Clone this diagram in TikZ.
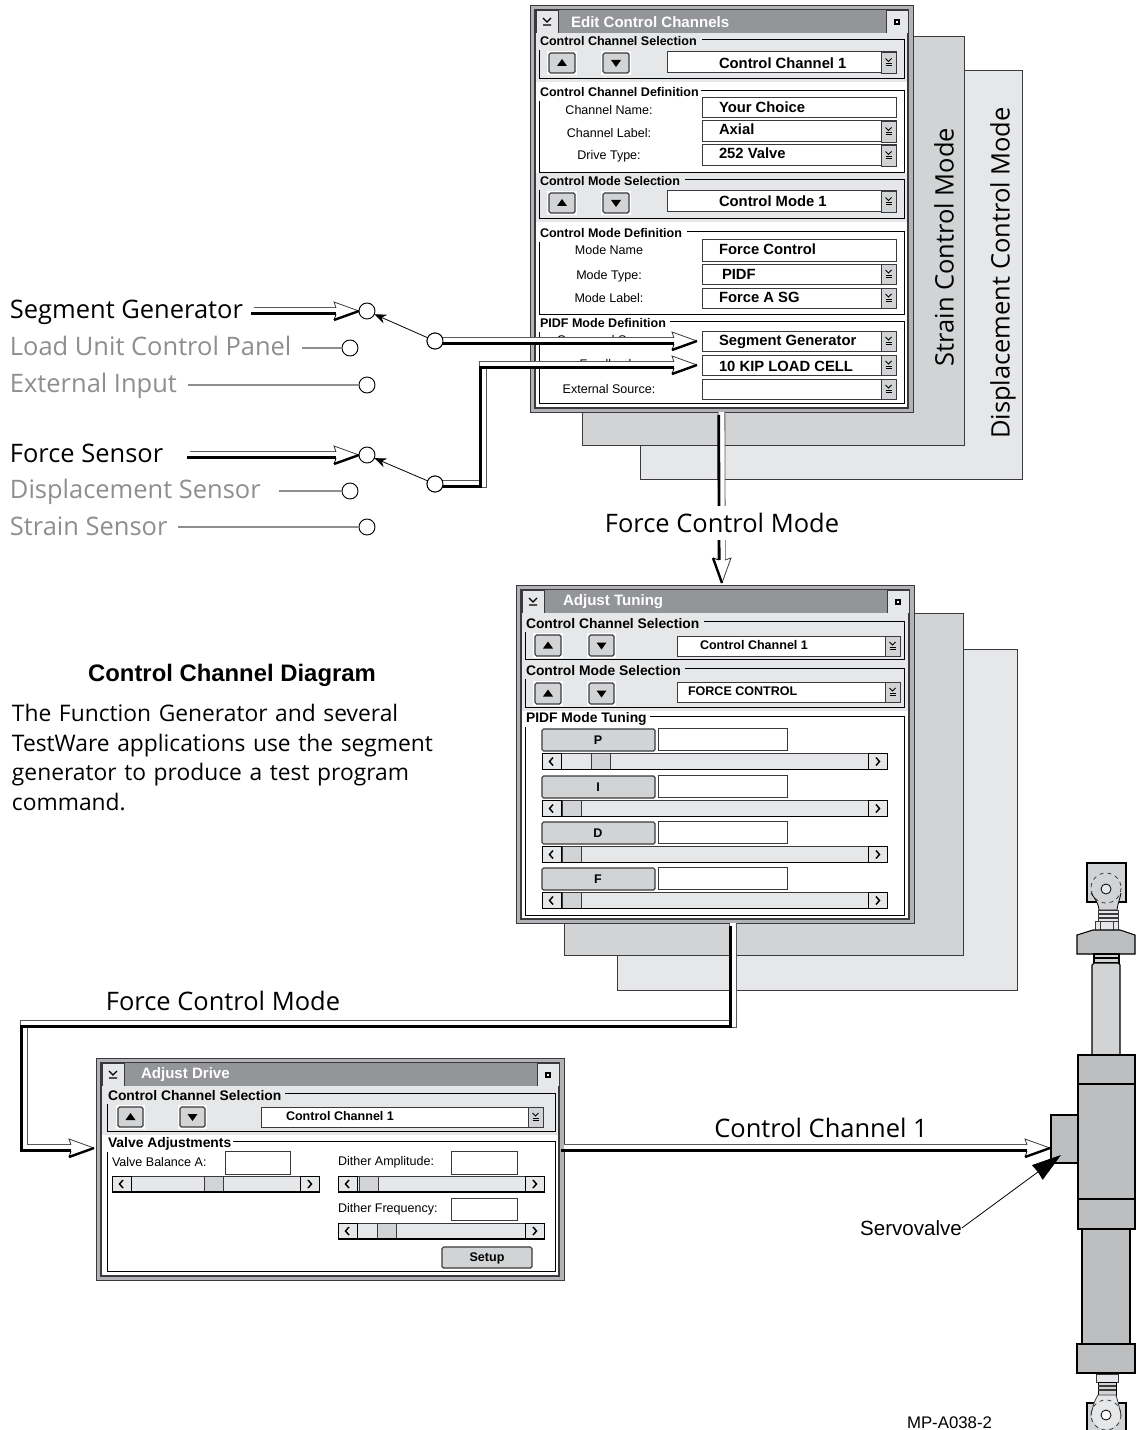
\documentclass[tikz,border=0pt]{standalone}
\usepackage{fontspec}
\setmainfont{Liberation Sans}
\newfontfamily\lightfont{Open Sans}
\usetikzlibrary{arrows.meta,calc}
\definecolor{Edge}{HTML}{3A3A3C}
\definecolor{FrameGray}{HTML}{B1B3B6}
\definecolor{TitleGray}{HTML}{939598}
\definecolor{PanelGray}{HTML}{E6E7E8}
\definecolor{SheetGray}{HTML}{D1D3D4}
\definecolor{BodyGray}{HTML}{BCBEC0}
\definecolor{Faded}{HTML}{8E8E8E}
\definecolor{PipeWall}{HTML}{58595B}
\newcommand{\upx}{0.75pt}
\tikzset{
  flat/.style={inner sep=0pt,outer sep=0pt},
  sheetbox/.style={flat,fill=#1,draw=Edge,line width=0.7pt},
  winframe/.style={flat,fill=FrameGray,draw=Edge,line width=0.6pt},
  wininner/.style={flat,fill=white,draw=Edge,line width=0.8pt},
  titlebar/.style={flat,fill=TitleGray},
  titlebtn/.style={flat,fill=PanelGray,draw=Edge,line width=0.6pt},
  panelband/.style={flat,fill=PanelGray},
  fieldbox/.style={flat,fill=white,draw=Edge,line width=0.75pt},
  dropbtn/.style={flat,fill=SheetGray,draw=Edge,line width=0.6pt},
  haloback/.style={flat,fill=white},
  raisedbtn/.style={flat,fill=SheetGray,draw=Edge,line width=0.9pt,rounded corners=1.2pt},
  scrollbody/.style={flat,fill=PanelGray,draw=Edge,line width=0.6pt},
  scrollend/.style={flat,fill=PanelGray,draw=black,line width=0.7pt},
  scrollthumb/.style={flat,fill=SheetGray,draw=Edge,line width=0.7pt},
  groupline/.style={draw=black,line width=0.7pt},
  titletext/.style={flat,anchor=west,text=white,font=\fontsize{11.3}{13}\selectfont\bfseries},
  smallgroup/.style={flat,anchor=west,font=\fontsize{9.4}{11}\selectfont\bfseries},
  largegroup/.style={flat,anchor=west,yshift=-0.75pt,font=\fontsize{10.4}{12}\selectfont\bfseries},
  fieldtext/.style={flat,anchor=west,font=\fontsize{11.1}{13}\selectfont\bfseries},
  comboSmall/.style={flat,anchor=west,font=\fontsize{9.4}{11}\selectfont\bfseries},
  formtext/.style={flat,font=\fontsize{9.4}{11}\selectfont},
  bigtext/.style={flat,anchor=base west,outer sep=8pt,font=\lightfont\fontsize{19.1}{22}\selectfont},
  bigfaded/.style={bigtext,text=Faded},
  sidetext/.style={flat,font=\lightfont\fontsize{19.1}{22}\selectfont},
  switchdot/.style={circle,draw=black,fill=white,line width=0.7pt,minimum size=12pt,inner sep=0pt,outer sep=0pt},
  thinfeed/.style={draw=Faded,line width=0.8pt},
  swingline/.style={-{Stealth[length=9pt,width=7pt]},draw=black,line width=0.6pt},
  leaderline/.style={-{Stealth[length=22pt,width=13.5pt,inset=0.5pt]},draw=black,line width=0.6pt},
  pipeedge/.style={draw=PipeWall,line width=5.6pt,shorten >=15pt},
  pipefill/.style={draw=white,line width=4.4pt,shorten >=14pt},
  pipeshadow/.style={draw=black,line width=2.1pt,shorten >=15pt,transform canvas={xshift=-2.1pt,yshift=-2.1pt}},
  actpart/.style={fill=BodyGray,draw=black,line width=0.8pt},
  actlight/.style={fill=SheetGray,draw=black,line width=0.8pt},
  actpale/.style={fill=PanelGray,draw=Edge,line width=0.6pt},
  pipehead/.pic={
    \path[fill=white] (0,0) -- (-25,-9) -- (-23,-3) -- (-23,3) -- (-25,9) -- cycle;
    \draw[draw=Edge,line width=0.6pt] (-23,-3) -- (-25,-9) -- (0,0);
    \draw[draw=black,line width=1.8pt] (0,0) -- (-25,9);
    \draw[draw=black,line width=0.6pt] (-25,9) -- (-23,3);
  }
}
% box from corner to corner, in pixels of the page
\newcommand{\boxat}[6]{\node[#1,minimum width={((#5)-(#3))*\upx},minimum height={((#6)-(#4))*\upx},anchor=north west] (#2) at (#3,#4) {};}
% the v-and-two-bars glyph
\newcommand{\dropglyph}[2]{
  \draw[line width=0.6pt] ({#1-3},{#2-4}) -- (#1,{#2-1}) -- ({#1+3},{#2-4});
  \draw[line width=0.5pt] ({#1-3},{#2+1}) -- ({#1+3},{#2+1}) ({#1-3},{#2+3}) -- ({#1+3},{#2+3});
}
% window: name, corners, title, title x
\newcommand{\winbox}[7]{
  \boxat{winframe}{#1}{#2}{#3}{#4}{#5}
  \boxat{wininner}{#1in}{#2+5}{#3+5}{#4-5}{#5-4}
  \boxat{titlebar}{#1bar}{#2+6}{#3+5}{#4-6}{#3+28}
  \boxat{titlebtn}{#1menu}{#2+6}{#3+5}{#2+28}{#3+28}
  \boxat{titlebtn}{#1size}{#4-27}{#3+5}{#4-5}{#3+28}
  \draw[line width=0.9pt] ({#2+13},{#3+13}) -- ({#2+17},{#3+17}) -- ({#2+21},{#3+13}) ({#2+13},{#3+20}) -- ({#2+21},{#3+20});
  \draw[line width=0.8pt,fill=white] ({#4-18},{#3+15}) rectangle ({#4-14},{#3+19});
  \node[titletext] (#1title) at (#7,#3+17) {#6};
}
% frame with a label set into its top line
\newcommand{\groupbox}[8]{
  \draw[groupline] (#2,#3+11) -- (#2,#5) -- (#4,#5) -- (#4,#3) -- (#6,#3);
  \node[#8] (#1) at (#2+1,#3+2) {#7};
}
\newcommand{\combo}[5]{
  \boxat{fieldbox}{#1}{#2}{#3}{#4}{#5}
  \boxat{dropbtn}{#1drop}{#4-15}{#3}{#4}{#5}
  \dropglyph{#4-7.5}{(#3+#5)/2}
}
% sign +1 gives an up triangle, -1 a down triangle
\newcommand{\spinbtn}[6]{
  \boxat{haloback}{#1halo}{#2-2}{#3-2}{#4+2}{#5+2}
  \boxat{raisedbtn}{#1}{#2}{#3}{#4}{#5}
  \fill ({(#2+#4)/2-5},{(#3+#5)/2+3*(#6)}) -- ({(#2+#4)/2+5},{(#3+#5)/2+3*(#6)}) -- ({(#2+#4)/2},{(#3+#5)/2-4*(#6)}) -- cycle;
}
\newcommand{\scrollbar}[5]{
  \boxat{scrollbody}{#1}{#2}{#3}{#4}{#3+16}
  \boxat{scrollthumb}{#1thumb}{#5}{#3}{#5+19}{#3+16}
  \boxat{scrollend}{#1less}{#2}{#3}{#2+19}{#3+16}
  \boxat{scrollend}{#1more}{#4-19}{#3}{#4}{#3+16}
  \draw[line width=1.2pt] (#2,{#3+16}) -- (#4,{#3+16});
  \draw[line width=1.1pt] ({#2+11},{#3+4}) -- ({#2+7.5},{#3+8}) -- ({#2+11},{#3+12});
  \draw[line width=1.1pt] ({#4-11},{#3+4}) -- ({#4-7.5},{#3+8}) -- ({#4-11},{#3+12});
}
% double-walled connector with an open head
\newcommand{\pipe}[3]{
  \path[pipeedge] #1;
  \path[pipefill] #1;
  \path[pipeshadow] #1;
  \pic[rotate=#3] at (#2) {pipehead};
}
\begin{document}
\begin{tikzpicture}[x=0.75pt,y=-0.75pt]
  \useasboundingbox[fill=white] (0,0) rectangle (1138,1430);

  % sheets behind the first window
  \boxat{sheetbox=PanelGray}{dispsheet}{640}{70}{1022}{479}
  \boxat{sheetbox=SheetGray}{strainsheet}{582}{36}{964}{445}
  \node[sidetext,rotate=90] (straintxt) at (944,247) {Strain Control Mode};
  \node[sidetext,rotate=90] (disptxt) at (1003,273) {Displacement Control Mode};

  % first window
  \winbox{editwin}{530}{5}{913}{412}{Edit Control Channels}{571}
  \boxat{panelband}{chanband}{536}{33}{907}{82}
  \groupbox{chanselect}{539}{39}{904}{78}{702}{Control Channel Selection}{smallgroup}
  \spinbtn{chanup}{549}{53}{575}{73}{1}
  \spinbtn{chandown}{603}{53}{629}{73}{-1}
  \combo{chanbox}{667}{52}{896}{73}
  \node[fieldtext] (chanval) at (719,63) {Control Channel 1};

  \groupbox{chandef}{539}{90}{904}{172}{701}{Control Channel Definition}{smallgroup}
  \node[formtext] (namelbl) at (609,110) {Channel Name:};
  \node[formtext] (labellbl) at (609,133) {Channel Label:};
  \node[formtext] (drivelbl) at (609,156) {Drive Type:};
  \boxat{fieldbox}{namebox}{702}{98}{896}{118}
  \combo{labelbox}{702}{121}{896}{142}
  \combo{drivebox}{702}{145}{896}{166}
  \node[fieldtext] (nameval) at (719,107) {Your Choice};
  \node[fieldtext] (labelval) at (719,129) {Axial};
  \node[fieldtext] (driveval) at (719,153) {252 Valve};

  \boxat{panelband}{modeband}{536}{173}{907}{222}
  \groupbox{modeselect}{539}{179}{904}{218}{685}{Control Mode Selection}{smallgroup}
  \spinbtn{modeup}{549}{193}{575}{213}{1}
  \spinbtn{modedown}{603}{193}{629}{213}{-1}
  \combo{modebox}{667}{191}{896}{212}
  \node[fieldtext] (modeval) at (719,201) {Control Mode 1};

  \groupbox{modedef}{539}{231}{904}{314}{687}{Control Mode Definition}{smallgroup}
  \node[formtext] (mnamelbl) at (609,250) {Mode Name};
  \node[formtext] (mtypelbl) at (609,276) {Mode Type:};
  \node[formtext] (mlabellbl) at (609,298) {Mode Label:};
  \boxat{fieldbox}{mnamebox}{702}{240}{896}{261}
  \combo{mtypebox}{702}{264}{896}{284}
  \combo{mlabelbox}{702}{288}{896}{308}
  \node[fieldtext] (mnameval) at (719,249) {Force Control};
  \node[fieldtext] (mtypeval) at (722,274) {PIDF};
  \node[fieldtext] (mlabelval) at (719,297) {Force A SG};

  \groupbox{pidfdef}{539}{321}{904}{403}{670}{PIDF Mode Definition}{smallgroup}
  \node[formtext] (cmdlbl) at (609,340) {Command Source:};
  \node[formtext] (fdbklbl) at (609,364) {Feedback:};
  \node[formtext] (extlbl) at (609,389) {External Source:};
  \combo{cmdbox}{702}{331}{896}{351}
  \combo{fdbkbox}{702}{355}{896}{375}
  \combo{extbox}{702}{379}{896}{399}
  \node[fieldtext] (cmdval) at (719,342) {Segment Generator};
  \node[fieldtext] (fdbkval) at (719,366) {10 KIP LOAD CELL};

  % second stack
  \boxat{sheetbox=PanelGray}{dispsheetb}{617}{649}{1017}{990}
  \boxat{sheetbox=SheetGray}{strainsheetb}{564}{613}{963}{955}
  \winbox{tunewin}{516}{585}{914}{923}{Adjust Tuning}{563}
  \boxat{panelband}{tuneband}{522}{613}{908}{711}
  \groupbox{tunechan}{525}{621}{904}{659}{704}{Control Channel Selection}{largegroup}
  \spinbtn{tunechanup}{535}{635}{561}{656}{1}
  \spinbtn{tunechandown}{589}{635}{614}{656}{-1}
  \combo{tunechanbox}{677}{636}{900}{656}
  \node[comboSmall] (tunechanval) at (700,645) {Control Channel 1};
  \groupbox{tunemode}{525}{668}{904}{707}{685}{Control Mode Selection}{largegroup}
  \spinbtn{tunemodeup}{535}{683}{561}{704}{1}
  \spinbtn{tunemodedown}{589}{683}{614}{704}{-1}
  \combo{tunemodebox}{677}{682}{900}{702}
  \node[comboSmall] (tunemodeval) at (688,691) {FORCE CONTROL};
  \groupbox{tunepidf}{525}{716}{904}{915}{650}{PIDF Mode Tuning}{largegroup}
  \foreach \rowname/\rowy/\thumbx in {P/729/591,I/776/562,D/822/562,F/868/562}{
    \boxat{raisedbtn}{btn\rowname}{542}{\rowy}{655}{\rowy+22}
    \node[comboSmall,anchor=center] (txt\rowname) at (598,\rowy+11) {\rowname};
    \boxat{fieldbox}{gain\rowname}{658}{\rowy-1}{787}{\rowy+21}
    \scrollbar{bar\rowname}{542}{\rowy+24.5}{887}{\thumbx}
  }

  % third window
  \winbox{drivewin}{96}{1058}{564}{1280}{Adjust Drive}{141}
  \boxat{panelband}{driveband}{102}{1086}{558}{1135}
  \groupbox{drivechan}{107}{1093}{555}{1131}{285}{Control Channel Selection}{largegroup}
  \spinbtn{drivechanup}{118}{1107}{143}{1127}{1}
  \spinbtn{drivechandown}{180}{1107}{205}{1127}{-1}
  \combo{drivechanbox}{261}{1107}{543}{1127}
  \node[comboSmall] (drivechanval) at (286,1116) {Control Channel 1};
  \groupbox{valveadj}{107}{1141}{555}{1271}{233}{Valve Adjustments}{largegroup}
  \node[formtext,anchor=west] (balancelbl) at (112,1162) {Valve Balance A:};
  \node[formtext,anchor=west] (amplbl) at (338,1162) {Dither Amplitude:};
  \node[formtext,anchor=west] (freqlbl) at (338,1209) {Dither Frequency:};
  \boxat{fieldbox}{balancebox}{225}{1151}{290}{1174}
  \boxat{fieldbox}{ampbox}{451}{1151}{517}{1174}
  \boxat{fieldbox}{freqbox}{451}{1198}{517}{1220}
  \scrollbar{balancebar}{112}{1176}{319}{204}
  \scrollbar{ampbar}{338}{1176}{544}{359}
  \scrollbar{freqbar}{338}{1223}{544}{377}
  \boxat{raisedbtn}{setupbtn}{442}{1247}{532}{1268}
  \node[comboSmall,anchor=center] (setuptxt) at (487,1258) {Setup};

  % inputs and switches
  \node[switchdot] (segpin) at (367,311) {};
  \node[switchdot] (panelpin) at (350,348) {};
  \node[switchdot] (extpin) at (367,385) {};
  \node[switchdot] (forcepin) at (367,455) {};
  \node[switchdot] (disppin) at (350,491) {};
  \node[switchdot] (strainpin) at (367,527) {};
  \node[switchdot] (cmdswitch) at (435,341) {};
  \node[switchdot] (fdbkswitch) at (435,484) {};
  \node[bigtext] (seglbl) at (-0.7,318) {Segment Generator};
  \node[bigfaded] (panellbl) at (-0.7,355) {Load Unit Control Panel};
  \node[bigfaded] (extinlbl) at (-0.7,392) {External Input};
  \node[bigtext] (forcelbl) at (-0.7,462) {Force Sensor};
  \node[bigfaded] (displbl) at (-0.7,498) {Displacement Sensor};
  \node[bigfaded] (strainlbl) at (-0.7,535) {Strain Sensor};
  \draw[thinfeed] (panellbl.east |- panelpin) -- (panelpin);
  \draw[thinfeed] (extinlbl.east |- extpin) -- (extpin);
  \draw[thinfeed] ($(displbl.east |- disppin)+(8,0)$) -- (disppin);
  \draw[thinfeed] (strainlbl.east |- strainpin) -- (strainpin);
  \draw[swingline] (cmdswitch) -- (segpin);
  \draw[swingline] (fdbkswitch) -- (forcepin);

  \pipe{(seglbl.east |- segpin) -- (segpin.west)}{segpin.west}{0}
  \pipe{($(forcelbl.east |- forcepin)+(16,0)$) -- (forcepin.west)}{forcepin.west}{0}
  \coordinate (cmdtip) at (697,341);
  \coordinate (fdbktip) at (697,365);
  \pipe{(cmdswitch.east) -- (cmdtip)}{cmdtip}{0}
  \pipe{(fdbkswitch.east) -- (483,484) |- (fdbktip)}{fdbktip}{0}
  \node[switchdot] (cmdswitchb) at (cmdswitch) {};
  \node[switchdot] (fdbkswitchb) at (fdbkswitch) {};

  % between the windows
  \coordinate (tunetip) at (722,583);
  \pipe{(editwin.south) -- (tunetip)}{tunetip}{-90}
  \node[flat,fill=white,minimum height=25pt,inner xsep=3pt,font=\lightfont\fontsize{19.1}{22}\selectfont] (modelbla) at (722,523) {Force Control Mode};
  \coordinate (tuneout) at (733,923);
  \coordinate (drivetip) at (94,1148);
  \pipe{(tuneout) |- (24,1024) |- (drivetip)}{drivetip}{0}
  \node[sidetext] (modelblb) at (223,1001) {Force Control Mode};
  \coordinate (drivetap) at (564,1148);
  \coordinate (servotip) at (1050,1148);
  \pipe{(drivetap) -- (servotip)}{servotip}{0}
  \node[sidetext] (chanlbl) at (821,1128) {Control Channel 1};

  % actuator
  \draw[actlight] (1087,863) rectangle (1126,902);
  \draw[actlight,line width=0.6pt] (1091,893) .. controls (1095,899) and (1098,902) .. (1099,910) -- (1117,910) .. controls (1118,902) and (1120,899) .. (1121,893);
  \draw[actpale] (1098,910) rectangle (1118,921);
  \draw[dashed,draw=Edge,line width=0.6pt] (1106,888) circle (15);
  \draw[line width=0.6pt,fill=PanelGray] (1106,889) circle (5);
  \draw[line width=1.2pt,draw=Edge] (1098,914) -- (1118,914) (1098,918) -- (1118,918);
  \draw[actpale] (1095,921) rectangle (1118,930);
  \draw[actpale] (1100,921) -- (1100,930) (1113,921) -- (1113,930);
  \draw[actpart] (1077,935) -- (1093,930) -- (1120,930) -- (1135,935) -- (1135,954) -- (1077,954) -- cycle;
  \draw[actlight] (1094,954) rectangle (1119,963);
  \draw[line width=1.2pt] (1094,958) -- (1119,958);
  \draw[actlight] (1092,1055) -- (1092,965) -- (1094,963) -- (1118,963) -- (1120,965) -- (1120,1055) -- cycle;
  \draw[actpart] (1082,1229) rectangle (1130,1344);
  \node[flat,fill=BodyGray,draw=black,line width=0.8pt,minimum width=20.25pt,minimum height=36pt,anchor=north west] (servoblock) at (1051,1115) {};
  \draw[actpart] (1078,1055) rectangle (1135,1229);
  \draw[line width=0.8pt] (1078,1084) -- (1135,1084) (1078,1199) -- (1135,1199);
  \draw[actpart] (1077,1344) rectangle (1135,1373);
  \draw[actpale] (1096,1374) rectangle (1118,1382);
  \draw[actlight] (1087,1403) rectangle (1126,1431);
  \draw[actlight,line width=0.5pt] (1098,1382) rectangle (1116,1395);
  \draw[line width=1pt,draw=Edge] (1098,1386) -- (1116,1386) (1098,1390) -- (1116,1390);
  \draw[actpale] (1098,1395) -- (1116,1395) .. controls (1118,1402) .. (1121,1415) -- (1091,1415) .. controls (1094,1402) .. cycle;
  \draw[fill=PanelGray,draw=none] (1106,1415) circle (14);
  \draw[dashed,draw=Edge,line width=0.6pt] (1106,1415) circle (15);
  \draw[line width=0.6pt,fill=white] (1106,1415) circle (5);

  \node[formtext,font=\fontsize{15.4}{18}\selectfont] (servotxt) at (911,1228) {Servovalve};
  \coordinate (servohead) at (1061,1155);
  \draw[leaderline] (servotxt.east) -- (servohead);

  % caption
  \node[flat,font=\fontsize{17.9}{21}\selectfont\bfseries] (captitle) at (232,675) {Control Channel Diagram};
  \node[flat,anchor=north west,align=left,text width=400pt,font=\lightfont\fontsize{17.1}{22.3}\selectfont] (captext) at (12,704) {The Function Generator and several\\TestWare applications use the segment\\generator to produce a test program\\command.};
  \node[flat,anchor=west,font=\fontsize{12.6}{15}\selectfont] (partno) at (907,1423) {MP-A038-2};
\end{tikzpicture}
\end{document}
